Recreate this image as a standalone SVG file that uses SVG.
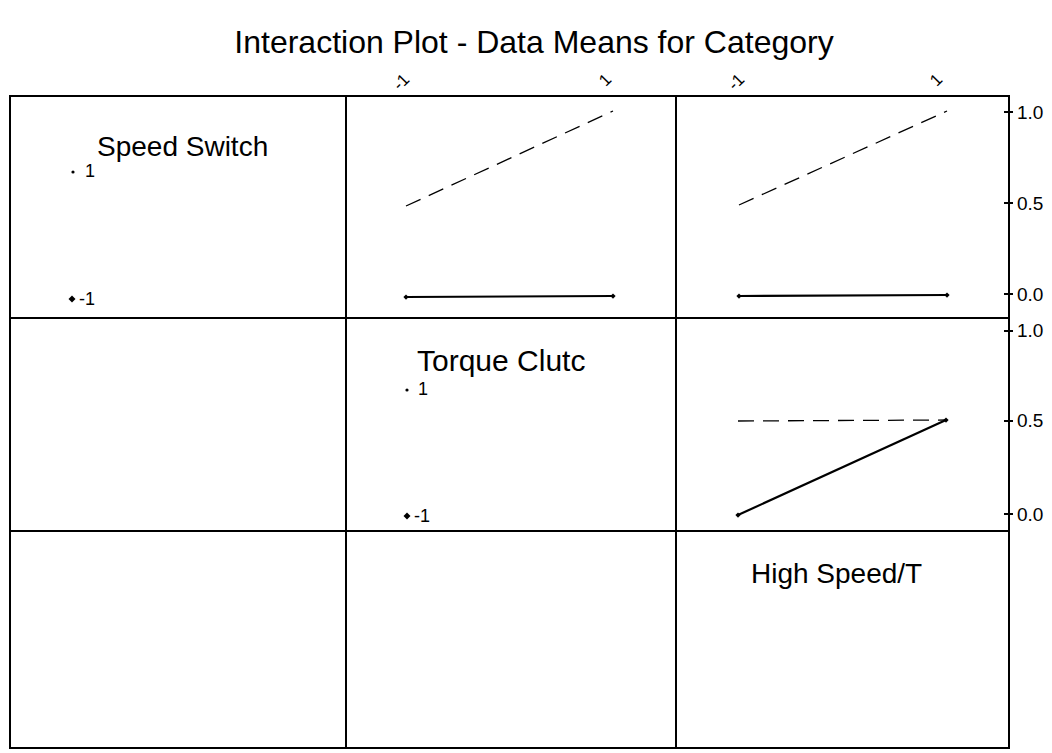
<svg xmlns="http://www.w3.org/2000/svg" width="1052" height="753" viewBox="0 0 1052 753">
  <style>
    text { font-family: "Liberation Sans", Arial, sans-serif; fill: #000; }
    .title { font-size: 32px; }
    .head { font-size: 28px; }
    .head-wide { font-size: 30px; }
    .lab { font-size: 18px; }
    .val { font-size: 19px; }
    .tick { font-size: 17px; }
    .frame { fill: none; stroke: #000; stroke-width: 2; }
    .grid { stroke: #000; stroke-width: 2; }
    .solid { stroke: #000; stroke-width: 2.2; fill: none; }
    .dash { stroke: #000; stroke-width: 1.3; fill: none; stroke-dasharray: 16 9; }
    .axtick { stroke: #000; stroke-width: 2; }
  </style>
  <defs>
    <marker id="dot" viewBox="-4 -4 8 8" markerWidth="7" markerHeight="7" markerUnits="userSpaceOnUse">
      <path d="M-3 0 L0 -3 L3 0 L0 3 Z" fill="#000"/>
    </marker>
  </defs>

  <rect width="1052" height="753" fill="#fff"/>

  <text class="title" x="534" y="53" text-anchor="middle">Interaction Plot - Data Means for Category</text>

  <!-- rotated top level labels -->
  <g id="top-labels" class="tick">
    <text x="405" y="86" transform="rotate(-45 405 86)" text-anchor="middle">-1</text>
    <text x="609" y="84" transform="rotate(-45 609 84)" text-anchor="middle">1</text>
    <text x="740" y="86" transform="rotate(-45 740 86)" text-anchor="middle">-1</text>
    <text x="940" y="84" transform="rotate(-45 940 84)" text-anchor="middle">1</text>
  </g>

  <!-- panel grid -->
  <g id="frame">
    <rect class="frame" x="10" y="96" width="999" height="652"/>
    <line class="grid" x1="346" y1="96" x2="346" y2="748"/>
    <line class="grid" x1="676" y1="96" x2="676" y2="748"/>
    <line class="grid" x1="10" y1="318" x2="1009" y2="318"/>
    <line class="grid" x1="10" y1="531" x2="1009" y2="531"/>
  </g>

  <!-- right axis ticks and values -->
  <g id="axis" class="val">
    <line class="axtick" x1="1004" y1="112" x2="1013" y2="112"/>
    <line class="axtick" x1="1004" y1="203" x2="1013" y2="203"/>
    <line class="axtick" x1="1004" y1="294" x2="1013" y2="294"/>
    <text x="1017" y="119">1.0</text>
    <text x="1017" y="210">0.5</text>
    <text x="1017" y="301">0.0</text>
    <line class="axtick" x1="1004" y1="331" x2="1013" y2="331"/>
    <line class="axtick" x1="1004" y1="421" x2="1013" y2="421"/>
    <line class="axtick" x1="1004" y1="514" x2="1013" y2="514"/>
    <text x="1017" y="337">1.0</text>
    <text x="1017" y="427">0.5</text>
    <text x="1017" y="521">0.0</text>
  </g>

  <!-- legend cells -->
  <g id="speed-switch">
    <text class="head" x="97" y="156">Speed Switch</text>
    <circle cx="73" cy="172" r="1.6" fill="#000"/>
    <text class="lab" x="85" y="177">1</text>
    <path d="M68.5 299 L72 295.5 L75.5 299 L72 302.5 Z" fill="#000"/>
    <text class="lab" x="79" y="305">-1</text>
  </g>
  <g id="torque-clutch">
    <text class="head-wide" x="417" y="371">Torque Clutc</text>
    <circle cx="407" cy="390" r="1.6" fill="#000"/>
    <text class="lab" x="418" y="395">1</text>
    <path d="M403.5 516 L407 512.5 L410.5 516 L407 519.5 Z" fill="#000"/>
    <text class="lab" x="414" y="522">-1</text>
  </g>
  <g id="high-speed">
    <text class="head" x="751" y="583">High Speed/T</text>
  </g>

  <!-- mean lines -->
  <g id="connectors">
    <line class="dash" x1="406" y1="206" x2="613" y2="111"/>
    <line class="solid" x1="406" y1="297" x2="613" y2="296" marker-start="url(#dot)" marker-end="url(#dot)"/>
    <line class="dash" x1="739" y1="205" x2="947" y2="111"/>
    <line class="solid" x1="739" y1="296" x2="947" y2="295" marker-start="url(#dot)" marker-end="url(#dot)"/>
    <line class="dash" x1="738" y1="421" x2="946" y2="420"/>
    <line class="solid" x1="738" y1="515" x2="946" y2="420" marker-start="url(#dot)" marker-end="url(#dot)"/>
  </g>
</svg>
